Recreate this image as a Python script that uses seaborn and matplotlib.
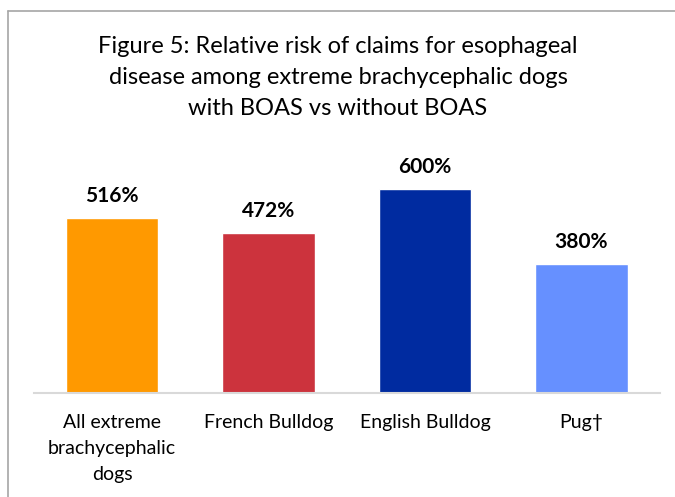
import matplotlib
matplotlib.use("Agg")
import matplotlib.pyplot as plt
import seaborn as sns
import pandas as pd
from matplotlib.lines import Line2D

# Data
categories = ["All extreme\nbrachycephalic\ndogs", "French Bulldog", "English Bulldog", "Pug\u2020"]
relative_risk = [516, 472, 600, 380]
value_labels = ["516%", "472%", "600%", "380%"]
bar_colors = ["#FF9900", "#CC333D", "#002BA0", "#6690FF"]
title_text = ("Figure 5: Relative risk of claims for esophageal\n"
              "disease among extreme brachycephalic dogs\n"
              "with BOAS vs without BOAS")

sns.set_theme(style="white")
plt.rcParams["font.family"] = ["Lato", "DejaVu Sans"]

df = pd.DataFrame({"group": categories, "risk": relative_risk})

fig = plt.figure(figsize=(6.75, 4.97), dpi=100)
ax = fig.add_axes([0.05, 0.2093, 0.9274, 0.4829])

sns.barplot(data=df, x="group", y="risk", hue="group", palette=bar_colors,
            width=0.59, legend=False, ax=ax, saturation=1)

ax.set_xlim(-0.5, 3.5)
ax.set_ylim(0, 706)
ax.set_xlabel("")
ax.set_ylabel("")
ax.set_yticks([])
for side in ["top", "right", "left"]:
    ax.spines[side].set_visible(False)
ax.spines["bottom"].set_color("#D9D9D9")
ax.spines["bottom"].set_linewidth(1.5)
ax.tick_params(axis="x", length=0, pad=15, labelsize=14, colors="black")
for lbl in ax.get_xticklabels():
    lbl.set_linespacing(1.65)

for patch, txt in zip(ax.patches, value_labels):
    x = patch.get_x() + patch.get_width() / 2
    ax.annotate(txt, (x, patch.get_height()), xytext=(0, 8.5), textcoords="offset points",
                ha="center", va="bottom", fontsize=15, fontweight="bold", color="black")

fig.text(0.5007, 0.927, title_text, ha="center", va="top", fontsize=17,
         linespacing=1.58, color="black")

# frame lines along the left and top edges of the figure
fig.add_artist(Line2D([7.5 / 675, 7.5 / 675], [0, 1 - 10.5 / 497], transform=fig.transFigure,
                      color="#A6A6A6", lw=1.2))
fig.add_artist(Line2D([7.5 / 675, 1], [1 - 10.5 / 497, 1 - 10.5 / 497], transform=fig.transFigure,
                      color="#A6A6A6", lw=1.2))

fig.savefig("out.png", dpi=100)
